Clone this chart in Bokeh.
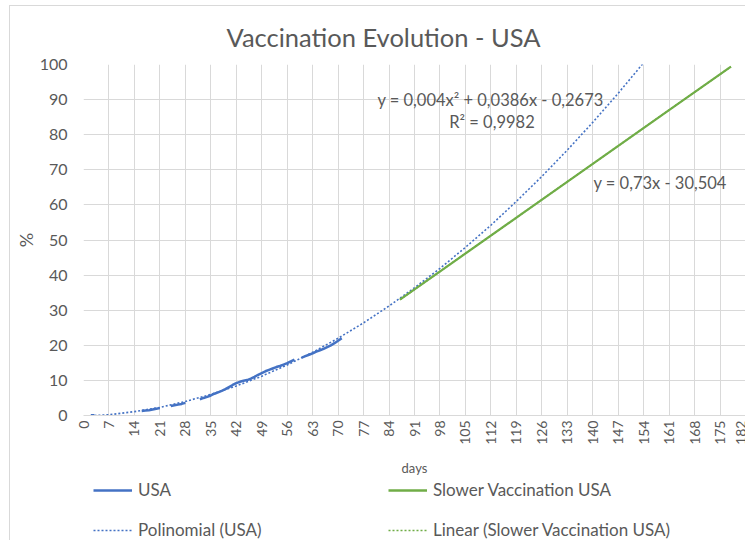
import math
from bokeh.plotting import figure
from bokeh.layouts import column
from bokeh.models import Range1d, FixedTicker, Label, Legend, LegendItem
from bokeh.embed import file_html
from bokeh.resources import INLINE

nan = float("nan")

# USA observed vaccination (% of population), gaps where line is broken
usa_days = list(range(2, 72))
usa_pct = [0.05, 0.05,
           nan, nan, nan, nan, nan, nan, nan, nan, nan, nan, nan, nan,
           1.3, 1.4, 1.5, 1.7, 1.9, 2.1,
           nan, nan,
           2.7, 2.9, 3.1, 3.3, 3.6,
           nan, nan, nan,
           4.6, 5.0, 5.3, 5.7, 6.2, 6.6, 7.0, 7.5, 8.1, 8.7, 9.2, 9.6, 9.9,
           10.1, 10.5, 11.0, 11.6, 12.1, 12.6, 13.0, 13.4, 13.8, 14.1, 14.5,
           14.9, 15.4, 15.9,
           nan,
           16.5, 16.9, 17.3, 17.7, 18.2, 18.6, 19.0, 19.5, 20.0, 20.6, 21.3, 22.0]

# Polynomial trend (USA)
poly_days = [3, 7, 14, 21, 28, 35, 42, 49, 56, 63, 70, 77, 84, 91, 98, 105,
             112, 119, 126, 133, 140, 147, 154]
poly_pct = [0.0, 0.2, 1.1, 2.3, 4.0, 6.0, 8.4, 11.2, 14.4, 18.0, 22.0, 26.4,
            31.2, 36.4, 41.9, 47.9, 54.2, 61.0, 68.1, 75.6, 83.5, 91.8, 100.5]

# Slower vaccination scenario
slow_days = [87, 100, 120, 140, 160, 178]
slow_pct = [33.0, 42.5, 57.1, 71.7, 86.3, 99.4]

# Linear trend (slower vaccination)
lin_days = [87, 100, 120, 140, 160, 178]
lin_pct = [33.0, 42.5, 57.1, 71.7, 86.3, 99.4]

x_ticks = list(range(0, 183, 7))
y_ticks = list(range(0, 101, 10))

title_text = "Vaccination Evolution - USA"
poly_eq = "y = 0,004x² + 0,0386x - 0,2673"
poly_r2 = "R² = 0,9982"
lin_eq = "y = 0,73x - 30,504"
legend_labels = ["USA", "Slower Vaccination USA", "Polinomial (USA)",
                 "Linear (Slower Vaccination USA)"]

BLUE = "#4472C4"
GREEN = "#70AD47"
TXT = "#595959"
GRID = "#D9D9D9"
FONT = "Lato"

p = figure(width=745, height=480, x_range=Range1d(0, 182), y_range=Range1d(0, 100),
           output_backend="svg", toolbar_location=None,
           min_border_left=83, min_border_right=0, min_border_top=64, min_border_bottom=65)
p.outline_line_color = None
p.border_fill_color = None

p.title.text = title_text
p.title.align = "left"
p.title.offset = 143
p.title.standoff = 25
p.title.text_font = FONT
p.title.text_font_size = "25.5px"
p.title.text_font_style = "normal"
p.title.text_color = TXT

p.xaxis.ticker = FixedTicker(ticks=x_ticks)
p.xgrid.ticker = FixedTicker(ticks=x_ticks)
p.yaxis.ticker = FixedTicker(ticks=y_ticks)
p.ygrid.ticker = FixedTicker(ticks=y_ticks)
p.xgrid.grid_line_color = GRID
p.ygrid.grid_line_color = GRID

for ax in (p.xaxis, p.yaxis):
    ax.major_tick_out = 0
    ax.major_tick_in = 0
    ax.minor_tick_out = 0
    ax.minor_tick_in = 0
    ax.major_label_text_color = TXT
    ax.major_label_text_font = FONT
    ax.axis_label_text_color = TXT
    ax.axis_label_text_font = FONT
    ax.axis_label_text_font_style = "normal"

p.xaxis.axis_line_color = GRID
p.yaxis.axis_line_color = None
p.xaxis.major_label_orientation = math.pi / 2
p.xaxis.major_label_text_font_size = "14px"
p.xaxis.major_label_standoff = 5
p.xaxis.axis_label = "days"
p.xaxis.axis_label_text_font_size = "13px"
p.xaxis.axis_label_standoff = 12
p.yaxis.major_label_text_font_size = "16px"
p.yaxis.major_label_standoff = 16
p.yaxis.axis_label = "%"
p.yaxis.axis_label_text_font_size = "18px"
p.yaxis.axis_label_standoff = 0

p.line(poly_days, poly_pct, line_color=BLUE, line_width=1.6, line_dash="2 2")
p.line(lin_days, lin_pct, line_color=GREEN, line_width=1.6, line_dash="2 2")
p.line(usa_days, usa_pct, line_color=BLUE, line_width=2.5)
p.line(slow_days, slow_pct, line_color=GREEN, line_width=2.25)

for txt, x, y, align in [(poly_eq, 80.8, 90.0, "left"), (poly_r2, 112.3, 83.7, "center"),
                         (lin_eq, 140.2, 66.1, "left")]:
    p.add_layout(Label(x=x, y=y, text=txt, text_font=FONT, text_font_size="16.5px",
                       text_color=TXT, text_align=align, text_baseline="middle"))

# legend panel below the chart (its data lies outside its visible ranges)
lg = figure(width=745, height=60, x_range=Range1d(-20, -10), y_range=Range1d(-20, -10),
            output_backend="svg", toolbar_location=None, title=None,
            x_axis_location=None, y_axis_location=None,
            min_border_left=0, min_border_right=0, min_border_top=0, min_border_bottom=0)
lg.grid.visible = False
lg.outline_line_color = None
lg.border_fill_color = None
lg.background_fill_color = None

r_usa = lg.line(usa_days, usa_pct, line_color=BLUE, line_width=2.5)
r_slow = lg.line(slow_days, slow_pct, line_color=GREEN, line_width=2.5)
r_poly = lg.line(poly_days, poly_pct, line_color=BLUE, line_width=1.6, line_dash="2 2")
r_lin = lg.line(lin_days, lin_pct, line_color=GREEN, line_width=1.6, line_dash="2 2")

common = dict(orientation="vertical", margin=0, glyph_width=39, glyph_height=20,
              label_height=20, label_standoff=6, spacing=19, padding=0,
              label_text_font=FONT, label_text_font_size="17px", label_text_color=TXT,
              label_text_baseline="middle",
              background_fill_alpha=0, border_line_color=None)
# legend frame is aligned with the chart frame (left edge at x=83)
leg1 = Legend(items=[LegendItem(label=legend_labels[0], renderers=[r_usa]),
                     LegendItem(label=legend_labels[2], renderers=[r_poly])],
              location=(10, 0), **common)
leg2 = Legend(items=[LegendItem(label=legend_labels[1], renderers=[r_slow]),
                     LegendItem(label=legend_labels[3], renderers=[r_lin])],
              location=(305, 0), **common)
lg.add_layout(leg1, "center")
lg.add_layout(leg2, "center")

border_css = ("linear-gradient(#D9D9D9, #D9D9D9) 9px 5px / 1px calc(100% - 5px) no-repeat, "
              "linear-gradient(#D9D9D9, #D9D9D9) 9px 5px / calc(100% - 9px) 1px no-repeat, #FFFFFF")
layout = column(p, lg, spacing=0, styles={"background": border_css})

open("out.html", "w").write(file_html(layout, INLINE))
